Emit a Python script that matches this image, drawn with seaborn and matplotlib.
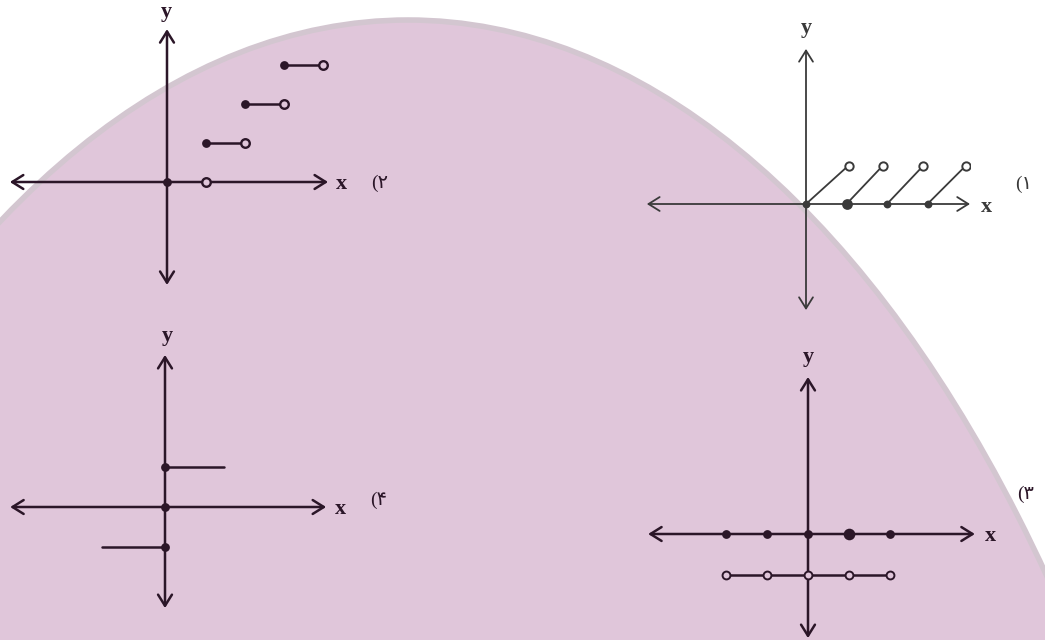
import numpy as np
import pandas as pd
import seaborn as sns
import matplotlib.pyplot as plt
from matplotlib.patches import Ellipse


# -----------------------------
# DATA (1 unit ~ 40 px)
# -----------------------------
# graph 1: slanted pieces, closed at x=n on the axis, open at the top end
g1_start_x = [0, 1, 2, 3]
g1_end_x = [1.05, 1.9, 2.9, 3.95]
g1_end_y = [0.95, 0.95, 0.95, 0.95]
g1_big_dot_x = [1]

# graph 2: staircase
g2_step_x0 = [1, 2, 3]
g2_step_x1 = [2, 3, 4]
g2_step_y = [1, 2, 3]
g2_axis_closed_x = [0]
g2_axis_open_x = [1]

# graph 3: closed dots on the axis, open dots on the line y=-1
g3_x = [-2, -1, 0, 1, 2]
g3_low_y = -1
g3_big_dot_x = [1]

# graph 4: two horizontal rays plus dots on the y axis
g4_dot_y = [1, 0, -1]
g4_seg_x0 = [0, -1.6]
g4_seg_x1 = [1.5, 0]
g4_seg_y = [1, -1]

panel_tags = ["(۱", "(۲", "(۳", "(۴"]

W, H = 1045, 640
PINK = "#E0C6DA"
DARK = "#2B1628"
GRAY = "#3A3A3A"


def seg_frame(x0, x1, y0, y1):
    rows = []
    for i, (a, b, c, d) in enumerate(zip(x0, x1, y0, y1)):
        rows.append({"seg": i, "x": a, "y": c})
        rows.append({"seg": i, "x": b, "y": d})
    return pd.DataFrame(rows)


def make_panel(fig, origin, unit, xr, yr, color, lw):
    ox, oy = origin
    left = ox + xr[0] * unit
    right = ox + xr[1] * unit
    top = oy - yr[1] * unit
    bottom = oy - yr[0] * unit
    ax = fig.add_axes([left / W, 1 - bottom / H, (right - left) / W, (bottom - top) / H])
    ax.set_xlim(*xr)
    ax.set_ylim(*yr)
    ax.set_facecolor("none")
    ax.axis("off")
    arrow = dict(arrowstyle="<->,head_length=0.8,head_width=0.5", color=color,
                 lw=lw, shrinkA=0, shrinkB=0, mutation_scale=10)
    ax.annotate("", xy=(xr[1], 0), xytext=(xr[0], 0), arrowprops=arrow, annotation_clip=False)
    ax.annotate("", xy=(0, yr[1]), xytext=(0, yr[0]), arrowprops=arrow, annotation_clip=False)
    return ax


sns.set_theme(style="white")
plt.rcParams["font.family"] = ["Liberation Serif", "DejaVu Sans"]

fig = plt.figure(figsize=(W / 100, H / 100), dpi=100)

# background with the pink blob
bg = fig.add_axes([0, 0, 1, 1])
bg.set_xlim(0, W)
bg.set_ylim(H, 0)
bg.axis("off")
bg.add_patch(Ellipse((408, 1712), 2 * 862, 2 * 1692, facecolor=PINK,
                     edgecolor="#d3c6d0", lw=4))

# -----------------------------
# GRAPH 1 (top right)
# -----------------------------
ax1 = make_panel(fig, (806, 204), 40.5, (-3.93, 4.05), (-2.62, 3.83), GRAY, 1.3)
d1 = seg_frame(g1_start_x, g1_end_x, [0] * len(g1_start_x), g1_end_y)
sns.lineplot(data=d1, x="x", y="y", units="seg", estimator=None, sort=False,
             color=GRAY, lw=1.3, ax=ax1, legend=False)
sns.scatterplot(x=g1_start_x, y=[0] * len(g1_start_x), color=GRAY, s=32,
                linewidth=0, ax=ax1, zorder=5)
sns.scatterplot(x=g1_big_dot_x, y=[0] * len(g1_big_dot_x), color=GRAY, s=60,
                linewidth=0, ax=ax1, zorder=5)
sns.scatterplot(x=g1_end_x, y=g1_end_y, color="white", edgecolor=GRAY, s=36,
                linewidth=1.4, ax=ax1, zorder=5)

# -----------------------------
# GRAPH 2 (top left)
# -----------------------------
ax2 = make_panel(fig, (167, 182), 39, (-4.03, 4.13), (-2.64, 3.92), DARK, 1.8)
d2 = seg_frame(g2_step_x0, g2_step_x1, g2_step_y, g2_step_y)
sns.lineplot(data=d2, x="x", y="y", units="seg", estimator=None, sort=False,
             color=DARK, lw=1.8, ax=ax2, legend=False)
sns.scatterplot(x=g2_step_x0 + g2_axis_closed_x, y=g2_step_y + [0], color=DARK,
                s=40, linewidth=0, ax=ax2, zorder=5)
sns.scatterplot(x=g2_step_x1 + g2_axis_open_x, y=g2_step_y + [0], color=PINK,
                edgecolor=DARK, s=38, linewidth=1.7, ax=ax2, zorder=5)

# -----------------------------
# GRAPH 3 (bottom right)
# -----------------------------
ax3 = make_panel(fig, (808, 534), 41, (-3.9, 4.07), (-2.54, 3.83), DARK, 1.8)
d3 = seg_frame([g3_x[0]], [g3_x[-1]], [g3_low_y], [g3_low_y])
sns.lineplot(data=d3, x="x", y="y", units="seg", estimator=None, sort=False,
             color=DARK, lw=1.8, ax=ax3, legend=False)
sns.scatterplot(x=g3_x, y=[0] * len(g3_x), color=DARK, s=40, linewidth=0,
                ax=ax3, zorder=5)
sns.scatterplot(x=g3_big_dot_x, y=[0] * len(g3_big_dot_x), color=DARK, s=70,
                linewidth=0, ax=ax3, zorder=5)
sns.scatterplot(x=g3_x, y=[g3_low_y] * len(g3_x), color=PINK, edgecolor=DARK,
                s=32, linewidth=1.4, ax=ax3, zorder=5)

# -----------------------------
# GRAPH 4 (bottom left)
# -----------------------------
ax4 = make_panel(fig, (165, 507), 39.5, (-3.92, 4.08), (-2.56, 3.85), DARK, 1.8)
d4 = seg_frame(g4_seg_x0, g4_seg_x1, g4_seg_y, g4_seg_y)
sns.lineplot(data=d4, x="x", y="y", units="seg", estimator=None, sort=False,
             color=DARK, lw=1.8, ax=ax4, legend=False)
sns.scatterplot(x=[0] * len(g4_dot_y), y=g4_dot_y, color=DARK, s=40,
                linewidth=0, ax=ax4, zorder=5)

# axis letters and option tags (pixel positions)
axis_font = dict(fontsize=16, fontweight="bold", ha="center", va="center")
tag_font = dict(fontsize=14, ha="center", va="center",
                family=["Liberation Serif", "DejaVu Sans"])
letters = [((806, 28), (986, 207), (1024, 184), GRAY),
           ((166, 12), (341, 184), (380, 183), DARK),
           ((808, 357), (990, 536), (1026, 494), DARK),
           ((167, 336), (340, 509), (379, 500), DARK)]
for (ypos, xpos, tpos, c), tag in zip(letters, panel_tags):
    bg.text(*ypos, "y", color=c, **axis_font)
    bg.text(*xpos, "x", color=c, **axis_font)
    bg.text(*tpos, tag, color=c, **tag_font)

fig.savefig("out.png", dpi=100)
